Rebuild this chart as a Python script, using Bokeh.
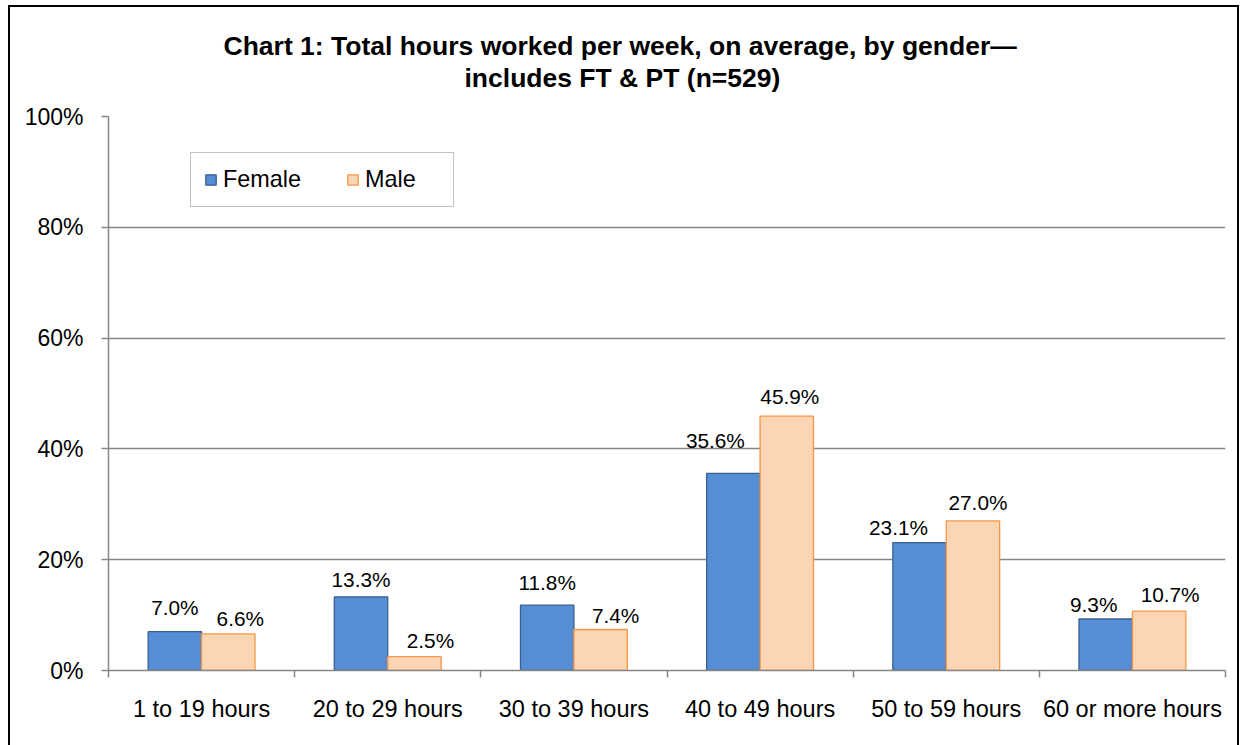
from bokeh.plotting import figure
from bokeh.models import (ColumnDataSource, Range1d, LinearAxis, FixedTicker, PrintfTickFormatter,
                          CustomJSTickFormatter, Title, Legend, LegendItem)
from bokeh.transform import dodge
from bokeh.core.properties import value
from bokeh.embed import file_html
from bokeh.resources import INLINE

# ---- data ----
categories = ["1 to 19 hours", "20 to 29 hours", "30 to 39 hours",
              "40 to 49 hours", "50 to 59 hours", "60 or more hours"]
female = [7.0, 13.3, 11.8, 35.6, 23.1, 9.3]
male = [6.6, 2.5, 7.4, 45.9, 27.0, 10.7]
y_ticks = [0, 20, 40, 60, 80, 100]
title_line1 = "Chart 1: Total hours worked per week, on average, by gender\u2014"
title_line2 = "includes FT & PT (n=529)"

# ---- label placement styling (pixels) ----
female_label_dx = [0, 0, 0, -18, -21, -12]
female_label_gap = [16, 9.5, 15, 25, 7, 6.6]
male_label_dx = [12, 16, 15, 3, 5, 11]
male_label_gap = [7, 8, 6, 12, 10, 9]
LABEL_SHIFT = 8

FONT = "Liberation Sans"
GRAY = "#868686"
F_FILL, F_LINE = "#558ED5", "#3A5F8F"
M_FILL, M_LINE = "#FCD5B5", "#F79646"
BAR_W = 0.287

n = len(categories)
centers = [i + 0.5 for i in range(n)]
src = ColumnDataSource(dict(
    xc=centers, female=female, male=male,
    f_lab=[f"{v:.1f}%" for v in female], m_lab=[f"{v:.1f}%" for v in male],
    f_dx=female_label_dx, f_dy=[-(g + LABEL_SHIFT) for g in female_label_gap],
    m_dx=male_label_dx, m_dy=[-(g + LABEL_SHIFT) for g in male_label_gap],
))

p = figure(x_range=Range1d(0, n), y_range=Range1d(0, 100),
           width=1231, height=740, output_backend="svg", toolbar_location=None,
           x_axis_location=None, y_axis_location=None,
           min_border_left=98, min_border_right=16, min_border_top=109, min_border_bottom=77)
p.styles = {"border-top": "2px solid black", "border-left": "2px solid black",
            "border-right": "2px solid black", "margin-left": "8px", "margin-top": "5px"}
p.outline_line_color = None
p.background_fill_color = "white"
p.border_fill_color = "white"

# y axis
yaxis = LinearAxis(ticker=FixedTicker(ticks=y_ticks, minor_ticks=[]),
                   formatter=PrintfTickFormatter(format="%d%%"))
yaxis.axis_line_color = GRAY
yaxis.axis_line_width = 1.5
yaxis.major_tick_line_color = GRAY
yaxis.major_tick_line_width = 1.5
yaxis.major_tick_out = 7
yaxis.major_tick_in = 0
yaxis.minor_tick_line_color = None
yaxis.major_label_standoff = 18
yaxis.major_label_text_font = FONT
yaxis.major_label_text_font_size = "23px"
yaxis.major_label_text_color = "black"
p.add_layout(yaxis, "left")

# x tick axis (boundaries between categories), no labels
bounds = list(range(n + 1))
tick_axis = LinearAxis(ticker=FixedTicker(ticks=bounds, minor_ticks=[]),
                       formatter=CustomJSTickFormatter(code="return ''"))
tick_axis.axis_line_color = GRAY
tick_axis.axis_line_width = 1.5
tick_axis.major_tick_line_color = GRAY
tick_axis.major_tick_line_width = 1.5
tick_axis.major_tick_out = 7
tick_axis.major_tick_in = 0
tick_axis.minor_tick_line_color = None
tick_axis.major_label_standoff = 0
tick_axis.major_label_text_font_size = "0px"
p.add_layout(tick_axis, "below")

# x label axis (category names at centres)
xaxis = LinearAxis(ticker=FixedTicker(ticks=centers, minor_ticks=[]),
                   formatter=CustomJSTickFormatter(args=dict(labels=categories),
                                                   code="return labels[Math.floor(tick)] || ''"))
xaxis.axis_line_color = None
xaxis.major_tick_line_color = None
xaxis.minor_tick_line_color = None
xaxis.major_tick_out = 0
xaxis.major_tick_in = 0
xaxis.major_label_standoff = 18
xaxis.major_label_text_font = FONT
xaxis.major_label_text_font_size = "23.5px"
xaxis.major_label_text_color = "black"
p.add_layout(xaxis, "below")

# spacer between frame and title (invisible axis: white tick on white)
spacer = LinearAxis(ticker=FixedTicker(ticks=[0], minor_ticks=[]),
                    formatter=CustomJSTickFormatter(code="return ''"))
spacer.axis_line_color = None
spacer.major_tick_line_color = "white"
spacer.minor_tick_line_color = None
spacer.major_tick_out = 24
spacer.major_tick_in = 0
spacer.major_label_standoff = 0
spacer.major_label_text_font_size = "0px"
p.add_layout(spacer, "above")

# grid
p.ygrid.ticker = FixedTicker(ticks=y_ticks)
p.ygrid.grid_line_color = GRAY
p.ygrid.grid_line_width = 1.3
p.xgrid.grid_line_color = None

# bars
rf = p.vbar(x=dodge("xc", -BAR_W / 2), top="female", width=BAR_W, source=src,
            fill_color=F_FILL, line_color=F_LINE, line_width=1.3)
rm = p.vbar(x=dodge("xc", BAR_W / 2), top="male", width=BAR_W, source=src,
            fill_color=M_FILL, line_color=M_LINE, line_width=1.3)

# data labels
p.text(x=dodge("xc", -BAR_W / 2), y="female", text="f_lab", source=src,
       x_offset="f_dx", y_offset="f_dy", text_align="center", text_baseline="alphabetic",
       text_font=value(FONT), text_font_size="20.8px", text_color="black")
p.text(x=dodge("xc", BAR_W / 2), y="male", text="m_lab", source=src,
       x_offset="m_dx", y_offset="m_dy", text_align="center", text_baseline="alphabetic",
       text_font=value(FONT), text_font_size="20.8px", text_color="black")

# legend
legend = Legend(items=[LegendItem(label="Female", renderers=[rf]),
                       LegendItem(label="Male", renderers=[rm])],
                location=(82, 463), orientation="horizontal")
legend.padding = 13
legend.margin = 0
legend.spacing = 45
legend.label_standoff = 6
legend.glyph_width = 13
legend.glyph_height = 13
legend.label_width = 75
legend.label_height = 26
legend.label_text_font = FONT
legend.label_text_font_size = "23.4px"
legend.label_text_color = "black"
legend.border_line_color = GRAY
legend.border_line_width = 1.3
legend.background_fill_color = "white"
legend.background_fill_alpha = 1
p.add_layout(legend, "center")

# title (two lines)
t2 = Title(text=title_line2, align="left", offset=356, text_font=FONT,
           text_font_size="26.5px", text_font_style="bold", text_color="black", standoff=0)
t1 = Title(text=title_line1, align="left", offset=115, text_font=FONT,
           text_font_size="26.5px", text_font_style="bold", text_color="black", standoff=0)
p.add_layout(t2, "above")
p.add_layout(t1, "above")

open("out.html", "w").write(file_html(p, INLINE))
